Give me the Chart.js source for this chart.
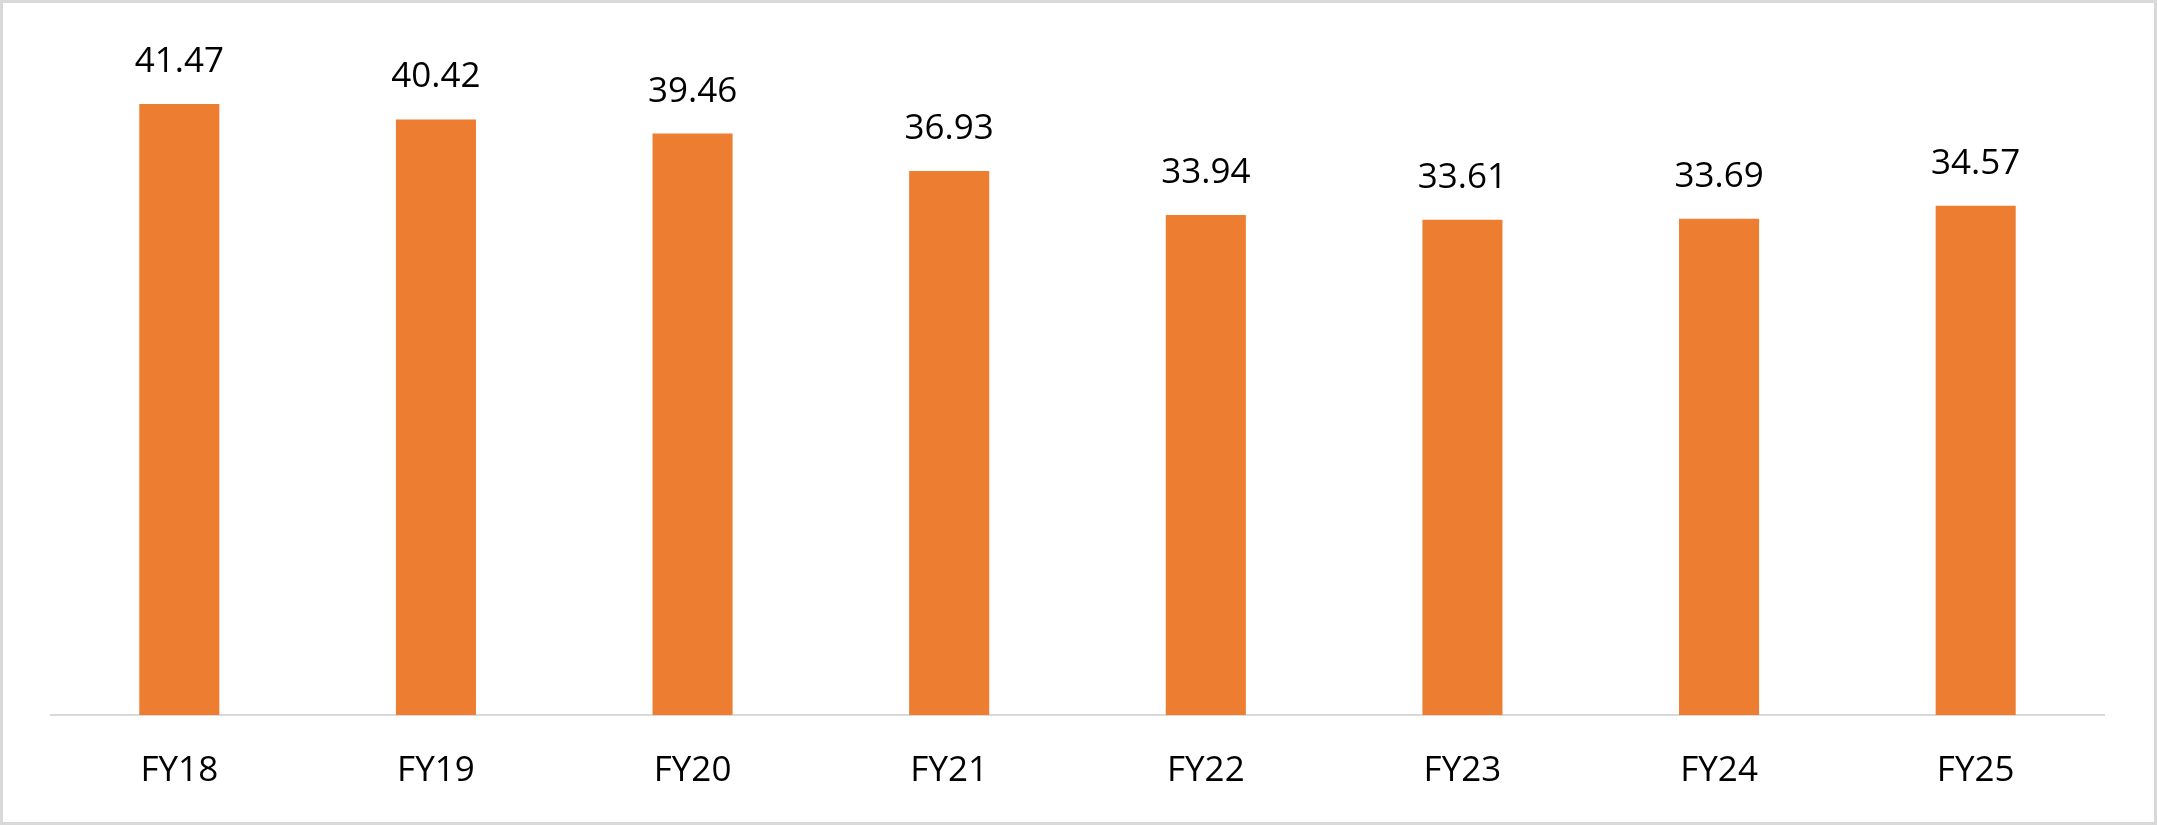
<!DOCTYPE html>
<html>
<head>
<meta charset="utf-8">
<script src="https://cdn.jsdelivr.net/npm/chart.js@4/dist/chart.umd.min.js"></script>
<style>
  html, body { margin:0; padding:0; background:#fff; overflow:hidden; }
  #wrap { width:2151px; height:819px; border:3px solid #d9d9d9; background:#fff; }
  #wrap canvas { display:block; }
</style>
</head>
<body>
<div id="wrap"><canvas id="barChart" width="2151" height="819"></canvas></div>
<script>
  // data
  const years = ['FY18','FY19','FY20','FY21','FY22','FY23','FY24','FY25'];
  const values = [41.47, 40.42, 39.46, 36.93, 33.94, 33.61, 33.69, 34.57];

  const FONT = '"Open Sans", "DejaVu Sans", sans-serif';

  /* value labels above each bar */
  const valueLabels = {
    id: 'valueLabels',
    afterDatasetsDraw(chart){
      const ctx = chart.ctx;
      const meta = chart.getDatasetMeta(0);
      ctx.save();
      ctx.font = '35px ' + FONT;
      ctx.fillStyle = '#000';
      ctx.textAlign = 'center';
      ctx.textBaseline = 'alphabetic';
      meta.data.forEach((bar, i) => {
        ctx.fillText(values[i].toFixed(2), bar.x, bar.y - 32);
      });
      ctx.restore();
    }
  };

  new Chart(document.getElementById('barChart'), {
    type: 'bar',
    data: {
      labels: years,
      datasets: [{ data: values, backgroundColor: '#ED7D31', borderWidth: 0,
                   categoryPercentage: 1, barPercentage: 0.312 }]
    },
    options: {
      responsive: false,
      animation: false,
      devicePixelRatio: 1,
      layout: { padding: { left: 48, right: 50, top: 49, bottom: 0 } },
      plugins: { legend: { display:false }, tooltip: { enabled:false } },
      scales: {
        x: {
          grid: { display:false },
          border: { display:true, color:'#d9d9d9', width:2 },
          ticks: { color:'#000', font: { family: FONT, size: 35 }, padding: 27 },
          afterFit(scale){ scale.height = 107; }
        },
        y: { display:false, min:0, max:45 }
      }
    },
    plugins: [valueLabels]
  });
</script>
</body>
</html>
